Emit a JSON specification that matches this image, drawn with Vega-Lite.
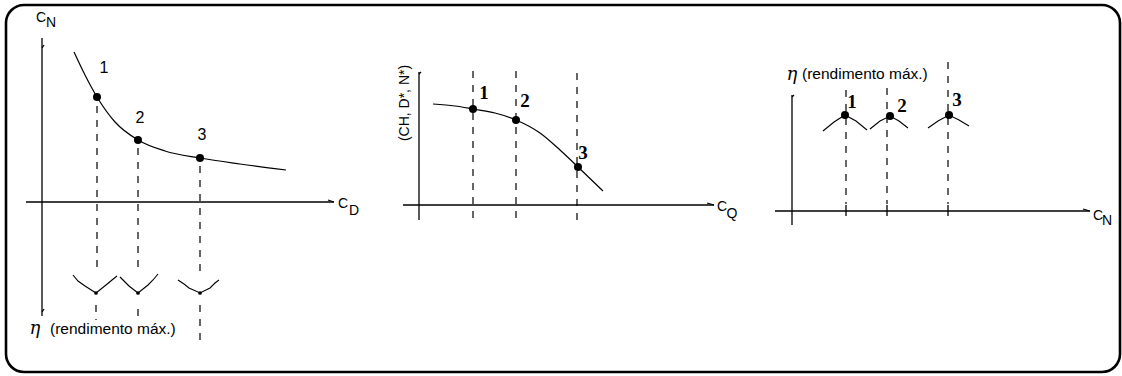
{
  "$schema": "https://vega.github.io/schema/vega-lite/v6.json",
  "width": 1122,
  "height": 376,
  "padding": 0,
  "autosize": {"type": "fit", "contains": "padding"},
  "background": "white",
  "config": {"view": {"stroke": null}},
  "datasets": {
    "frame": [{"x": 6, "y": 5, "x2": 1120, "y2": 372}],
    "solid": [
      {"x": 42, "y": 38, "x2": 42, "y2": 316},
      {"x": 26, "y": 202, "x2": 334, "y2": 202},
      {"x": 328, "y": 200, "x2": 334, "y2": 202},
      {"x": 42, "y": 48, "x2": 44, "y2": 45},
      {"x": 42, "y": 312, "x2": 44, "y2": 309},
      {"x": 419, "y": 72, "x2": 419, "y2": 220},
      {"x": 419, "y": 74, "x2": 421, "y2": 72},
      {"x": 403, "y": 205, "x2": 714, "y2": 205},
      {"x": 707, "y": 203, "x2": 714, "y2": 205},
      {"x": 792, "y": 95, "x2": 792, "y2": 225},
      {"x": 792, "y": 97, "x2": 794, "y2": 95},
      {"x": 775, "y": 211, "x2": 1090, "y2": 211},
      {"x": 1083, "y": 209, "x2": 1090, "y2": 211},
      {"x": 846, "y": 205, "x2": 846, "y2": 216},
      {"x": 887, "y": 205, "x2": 887, "y2": 216},
      {"x": 948, "y": 205, "x2": 948, "y2": 216}
    ],
    "dashed": [
      {"x": 97, "y": 106, "x2": 97, "y2": 270},
      {"x": 138, "y": 148, "x2": 138, "y2": 272},
      {"x": 200, "y": 166, "x2": 200, "y2": 272},
      {"x": 96, "y": 305, "x2": 96, "y2": 320},
      {"x": 138, "y": 309, "x2": 138, "y2": 322},
      {"x": 200, "y": 305, "x2": 200, "y2": 342},
      {"x": 473, "y": 71, "x2": 473, "y2": 222},
      {"x": 516, "y": 71, "x2": 516, "y2": 224},
      {"x": 577, "y": 73, "x2": 577, "y2": 224},
      {"x": 846, "y": 90, "x2": 846, "y2": 204},
      {"x": 887, "y": 88, "x2": 887, "y2": 204},
      {"x": 948, "y": 62, "x2": 948, "y2": 204}
    ],
    "curves": [
      {"g": "a", "x": 74, "y": 52}, {"g": "a", "x": 85, "y": 75}, {"g": "a", "x": 97, "y": 97},
      {"g": "a", "x": 115, "y": 122}, {"g": "a", "x": 138, "y": 140}, {"g": "a", "x": 165, "y": 151},
      {"g": "a", "x": 200, "y": 158}, {"g": "a", "x": 240, "y": 164}, {"g": "a", "x": 286, "y": 170},
      {"g": "b", "x": 433, "y": 104}, {"g": "b", "x": 455, "y": 106}, {"g": "b", "x": 473, "y": 109},
      {"g": "b", "x": 495, "y": 113}, {"g": "b", "x": 516, "y": 120}, {"g": "b", "x": 540, "y": 133},
      {"g": "b", "x": 560, "y": 150}, {"g": "b", "x": 578, "y": 167}, {"g": "b", "x": 603, "y": 191}
    ],
    "vees": [
      {"g": "v1", "x": 73, "y": 275}, {"g": "v1", "x": 78, "y": 281}, {"g": "v1", "x": 85, "y": 286}, {"g": "v1", "x": 96, "y": 293},
      {"g": "v1", "x": 106, "y": 285}, {"g": "v1", "x": 112, "y": 280}, {"g": "v1", "x": 117, "y": 276},
      {"g": "v2", "x": 120, "y": 277}, {"g": "v2", "x": 125, "y": 282}, {"g": "v2", "x": 129, "y": 286}, {"g": "v2", "x": 138, "y": 293},
      {"g": "v2", "x": 148, "y": 285}, {"g": "v2", "x": 153, "y": 280}, {"g": "v2", "x": 158, "y": 274},
      {"g": "v3", "x": 178, "y": 280}, {"g": "v3", "x": 184, "y": 284}, {"g": "v3", "x": 189, "y": 288}, {"g": "v3", "x": 200, "y": 293},
      {"g": "v3", "x": 210, "y": 288}, {"g": "v3", "x": 215, "y": 283}, {"g": "v3", "x": 219, "y": 280},
      {"g": "p1", "x": 823, "y": 131}, {"g": "p1", "x": 834, "y": 122}, {"g": "p1", "x": 845, "y": 115},
      {"g": "p1", "x": 856, "y": 121}, {"g": "p1", "x": 867, "y": 130},
      {"g": "p2", "x": 870, "y": 129}, {"g": "p2", "x": 880, "y": 121}, {"g": "p2", "x": 890, "y": 116},
      {"g": "p2", "x": 899, "y": 121}, {"g": "p2", "x": 908, "y": 128},
      {"g": "p3", "x": 928, "y": 128}, {"g": "p3", "x": 938, "y": 121}, {"g": "p3", "x": 949, "y": 115},
      {"g": "p3", "x": 959, "y": 120}, {"g": "p3", "x": 969, "y": 126}
    ],
    "bigdots": [
      {"x": 97, "y": 97}, {"x": 138, "y": 140}, {"x": 200, "y": 158},
      {"x": 473, "y": 109}, {"x": 516, "y": 120}, {"x": 578, "y": 167},
      {"x": 845, "y": 115}, {"x": 890, "y": 116}, {"x": 949, "y": 115}
    ],
    "smalldots": [{"x": 96, "y": 293}, {"x": 138, "y": 293}, {"x": 200, "y": 293}],
    "numSans": [
      {"x": 104, "y": 68, "t": "1"}, {"x": 140, "y": 118, "t": "2"}, {"x": 202, "y": 135, "t": "3"}
    ],
    "numSerif": [
      {"x": 484, "y": 93, "t": "1"}, {"x": 525, "y": 101, "t": "2"}, {"x": 583, "y": 153, "t": "3"},
      {"x": 852, "y": 102, "t": "1"}, {"x": 902, "y": 106, "t": "2"}, {"x": 957, "y": 100, "t": "3"}
    ],
    "letters": [
      {"x": 41, "y": 18, "t": "C"}, {"x": 51, "y": 23, "t": "N"},
      {"x": 343, "y": 204, "t": "C"}, {"x": 354, "y": 211, "t": "D"},
      {"x": 722, "y": 207, "t": "C"}, {"x": 732, "y": 214, "t": "Q"},
      {"x": 1098, "y": 216, "t": "C"}, {"x": 1107, "y": 221, "t": "N"}
    ],
    "eta": [{"x": 35, "y": 329, "t": "η"}, {"x": 792, "y": 75, "t": "η"}],
    "etaText": [{"x": 50, "y": 329, "t": "(rendimento máx.)"}, {"x": 802, "y": 74, "t": "(rendimento máx.)"}],
    "rotText": [{"x": 405, "y": 103, "t": "(CH, D*, N*)"}]
  },
  "encoding": {
    "x": {"field": "x", "type": "quantitative", "scale": {"domain": [0, 1122], "nice": false, "zero": false}, "axis": null},
    "y": {"field": "y", "type": "quantitative", "scale": {"domain": [0, 376], "nice": false, "zero": false, "reverse": true}, "axis": null}
  },
  "layer": [
    {
      "data": {"name": "frame"},
      "mark": {"type": "rect", "fill": null, "stroke": "black", "strokeWidth": 2.6, "cornerRadius": 18},
      "encoding": {"x2": {"field": "x2"}, "y2": {"field": "y2"}}
    },
    {
      "data": {"name": "solid"},
      "mark": {"type": "rule", "color": "black", "strokeWidth": 1.3},
      "encoding": {"x2": {"field": "x2"}, "y2": {"field": "y2"}}
    },
    {
      "data": {"name": "dashed"},
      "mark": {"type": "rule", "color": "black", "strokeWidth": 1.2, "strokeDash": [7, 7]},
      "encoding": {"x2": {"field": "x2"}, "y2": {"field": "y2"}}
    },
    {
      "data": {"name": "curves"},
      "mark": {"type": "line", "color": "black", "strokeWidth": 1.2, "interpolate": "monotone"},
      "encoding": {"detail": {"field": "g", "type": "nominal"}}
    },
    {
      "data": {"name": "vees"},
      "mark": {"type": "line", "color": "black", "strokeWidth": 1.1, "interpolate": "linear"},
      "encoding": {"detail": {"field": "g", "type": "nominal"}}
    },
    {
      "data": {"name": "bigdots"},
      "mark": {"type": "point", "filled": true, "color": "black", "opacity": 1, "size": 64},
      "encoding": {}
    },
    {
      "data": {"name": "smalldots"},
      "mark": {"type": "point", "filled": true, "color": "black", "opacity": 1, "size": 14},
      "encoding": {}
    },
    {
      "data": {"name": "numSans"},
      "mark": {"type": "text", "font": "Liberation Sans", "fontSize": 16, "align": "center", "baseline": "middle", "color": "black"},
      "encoding": {"text": {"field": "t"}}
    },
    {
      "data": {"name": "numSerif"},
      "mark": {"type": "text", "font": "Liberation Serif", "fontSize": 19, "fontWeight": "bold", "align": "center", "baseline": "middle", "color": "black"},
      "encoding": {"text": {"field": "t"}}
    },
    {
      "data": {"name": "letters"},
      "mark": {"type": "text", "font": "Liberation Sans", "fontSize": 14, "align": "center", "baseline": "middle", "color": "black"},
      "encoding": {"text": {"field": "t"}}
    },
    {
      "data": {"name": "eta"},
      "mark": {"type": "text", "font": "DejaVu Serif", "fontSize": 18, "fontStyle": "italic", "align": "center", "baseline": "middle", "color": "black"},
      "encoding": {"text": {"field": "t"}}
    },
    {
      "data": {"name": "etaText"},
      "mark": {"type": "text", "font": "Liberation Sans", "fontSize": 15.5, "align": "left", "baseline": "middle", "color": "black"},
      "encoding": {"text": {"field": "t"}}
    },
    {
      "data": {"name": "rotText"},
      "mark": {"type": "text", "font": "Liberation Sans", "fontSize": 14, "align": "center", "baseline": "middle", "angle": 270, "color": "black"},
      "encoding": {"text": {"field": "t"}}
    }
  ]
}
